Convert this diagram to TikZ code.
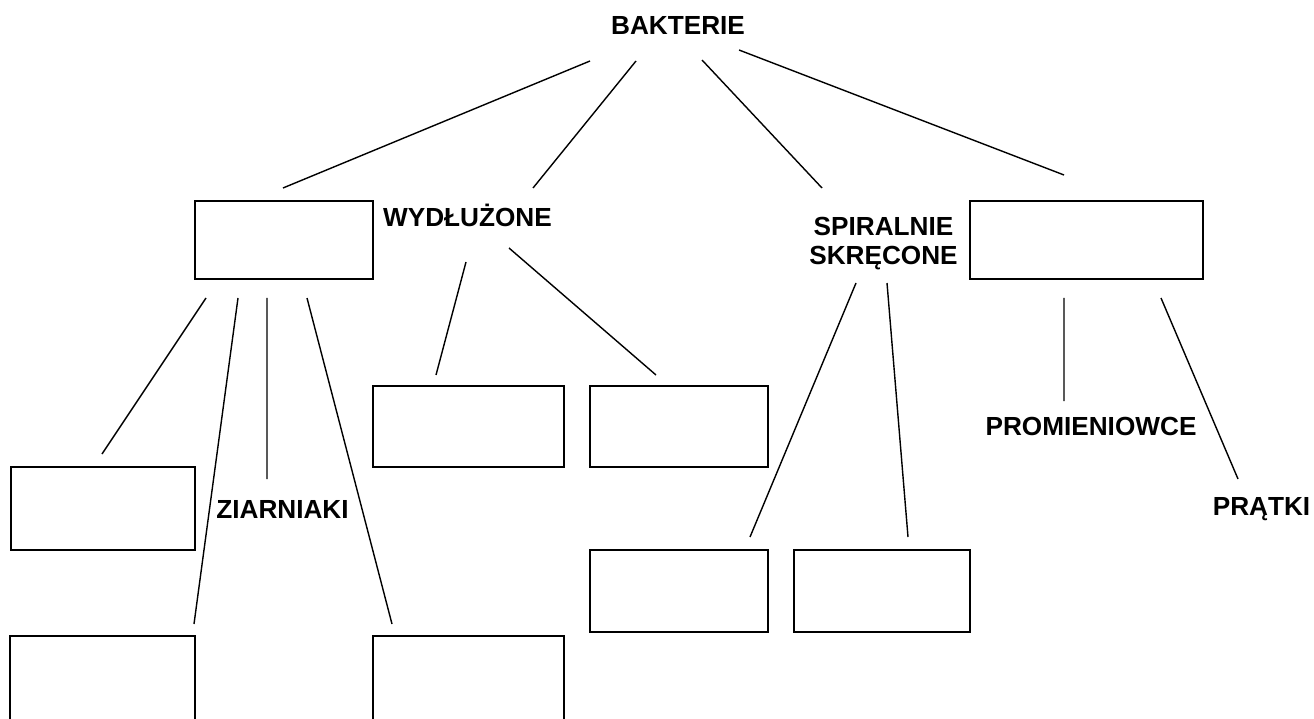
\documentclass[tikz,border=0pt]{standalone}
\usepackage{fontspec}
\setmainfont{Liberation Sans}
\begin{document}
\begin{tikzpicture}[x=0.02cm,y=-0.02cm,
    pole/.style 2 args={draw,line width=1.1pt,inner sep=0pt,
      minimum width=#1*0.02cm,minimum height=#2*0.02cm},
    etykieta/.style={font=\fontsize{14.9}{17}\selectfont\bfseries,
      inner sep=0pt,anchor=base},
    kreska/.style={line width=0.8pt}]
  \useasboundingbox (0,0) rectangle (1314,719);
  \clip (0,0) rectangle (1314,719);

  \node[etykieta] (bakterie) at (678,35) {BAKTERIE};
  \node[etykieta] (wydluzone) at (467.5,226.5) {WYDŁUŻONE};
  \node[etykieta,align=center] (spiralne) at (883.5,265) {SPIRALNIE\\SKRĘCONE};
  \node[etykieta] (ziarniaki) at (282.5,518.3) {ZIARNIAKI};
  \node[etykieta] (promieniowce) at (1091,435) {PROMIENIOWCE};
  \node[etykieta] (pratki) at (1261.5,515) {PRĄTKI};

  \node[pole={178}{78}] (kuliste) at (284,240) {};
  \node[pole={233}{78}] (rozgalezione) at (1086.5,240) {};
  \node[pole={184}{83}] (ziarniak1) at (103,508.5) {};
  \node[pole={185}{104}] (ziarniak2) at (102.5,688) {};
  \node[pole={191}{104}] (ziarniak3) at (468.5,688) {};
  \node[pole={191}{81}] (laseczki) at (468.5,426.5) {};
  \node[pole={178}{81}] (palecz) at (679,426.5) {};
  \node[pole={178}{82}] (przecinkowce) at (679,591) {};
  \node[pole={176}{82}] (kretki) at (882,591) {};

  \path (590,61) coordinate (b1) (283,188) coordinate (b1k)
        (636,61) coordinate (b2) (533,188) coordinate (b2k)
        (702,60) coordinate (b3) (822,188) coordinate (b3k)
        (739,50) coordinate (b4) (1064,175) coordinate (b4k)

        (206,298) coordinate (z1) (102,454) coordinate (z1k)
        (238,298) coordinate (z2) (194,624) coordinate (z2k)
        (267,298) coordinate (z3) (267,479) coordinate (z3k)
        (307,298) coordinate (z4) (392,624) coordinate (z4k)

        (466,262) coordinate (w1) (436,375) coordinate (w1k)
        (509,248) coordinate (w2) (656,375) coordinate (w2k)

        (856,283) coordinate (s1) (750,537) coordinate (s1k)
        (887,283) coordinate (s2) (908,537) coordinate (s2k)

        (1064,298) coordinate (r1) (1064,401) coordinate (r1k)
        (1161,298) coordinate (r2) (1238,479) coordinate (r2k);

  \draw[kreska]
    (b1) -- (b1k) (b2) -- (b2k) (b3) -- (b3k) (b4) -- (b4k)
    (z1) -- (z1k) (z2) -- (z2k) (z3) -- (z3k) (z4) -- (z4k)
    (w1) -- (w1k) (w2) -- (w2k)
    (s1) -- (s1k) (s2) -- (s2k)
    (r1) -- (r1k) (r2) -- (r2k);
\end{tikzpicture}
\end{document}
